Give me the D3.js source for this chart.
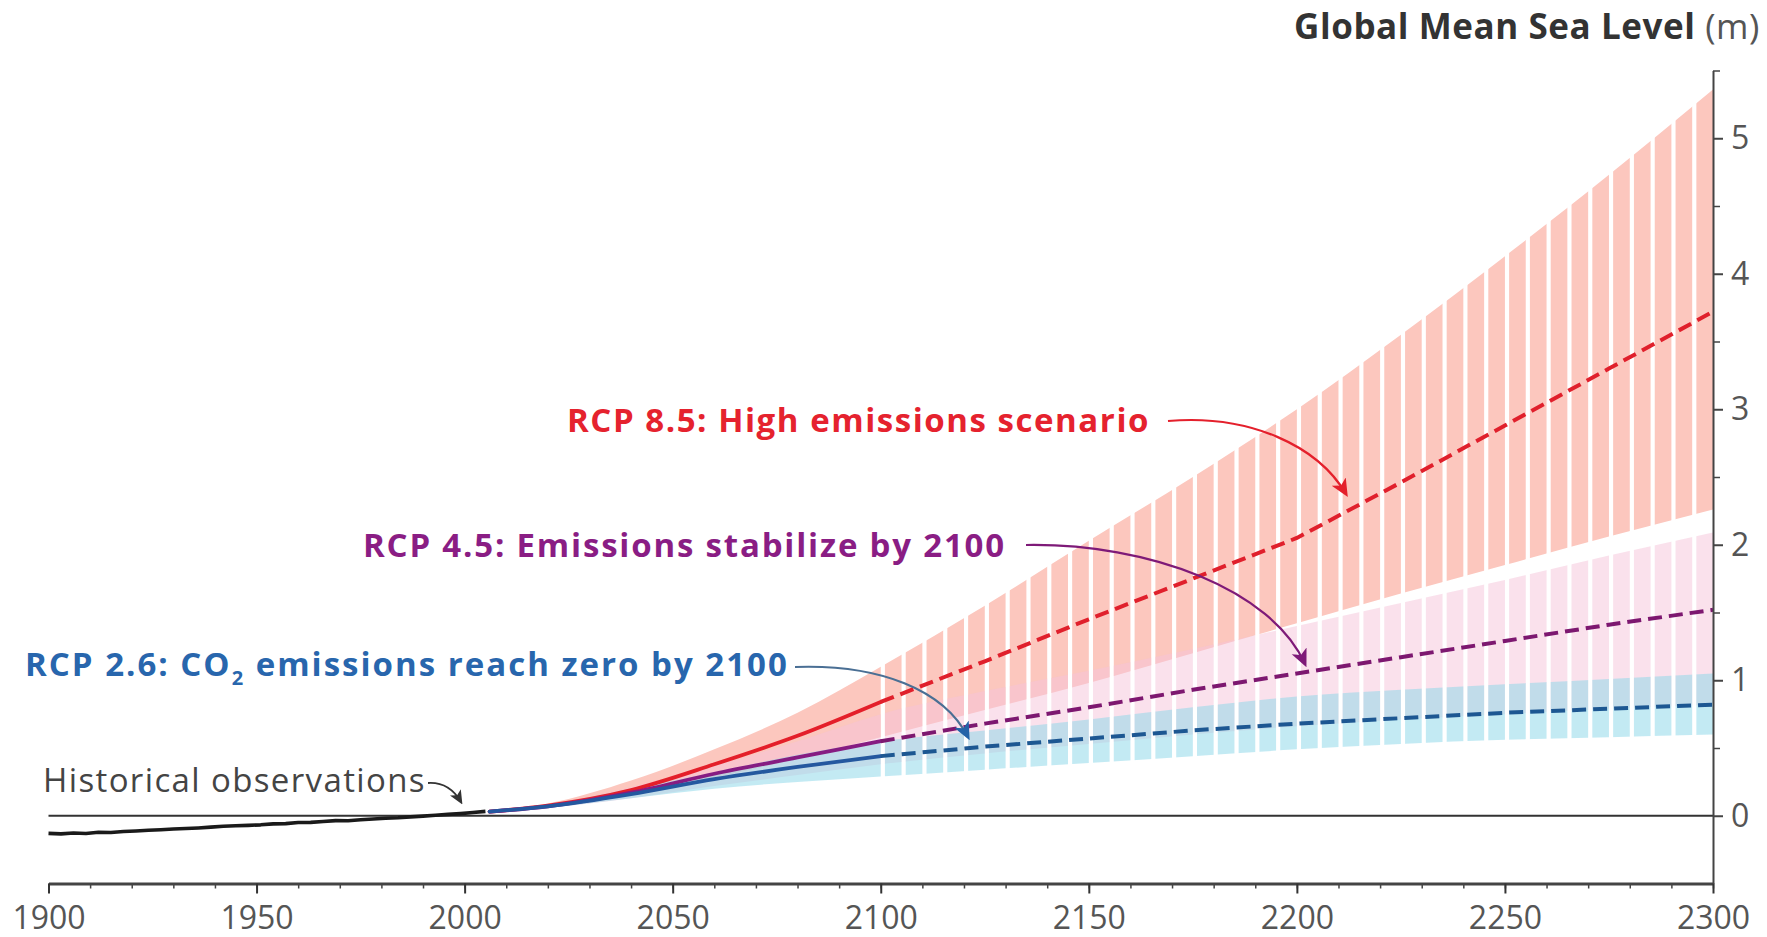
<!DOCTYPE html>
<html>
<head>
<meta charset="utf-8">
<script src="https://cdn.jsdelivr.net/npm/d3@7"></script>
<style>
  html, body { margin: 0; padding: 0; background: #fff; }
  svg { display: block; }
  text { font-family: "Open Sans", Lato, sans-serif; }
</style>
</head>
<body>
<svg id="chart" width="1767" height="937"></svg>
<script>
// ---- Observed global mean sea level (m, relative to ~2000) ----
const histYears = [1900, 1903, 1906, 1909, 1912, 1915, 1918, 1921, 1924, 1927, 1930, 1933, 1936, 1939,
  1942, 1945, 1948, 1951, 1954, 1957, 1960, 1963, 1966, 1969, 1972, 1975, 1978, 1981, 1984, 1987,
  1990, 1993, 1996, 1999, 2002, 2005];
const histLevel = [-0.130, -0.134, -0.127, -0.131, -0.122, -0.124, -0.116, -0.112, -0.107, -0.103,
  -0.098, -0.094, -0.090, -0.084, -0.078, -0.074, -0.071, -0.067, -0.060, -0.058, -0.050, -0.049,
  -0.042, -0.036, -0.037, -0.030, -0.024, -0.019, -0.015, -0.008, -0.003, 0.004, 0.010, 0.016,
  0.024, 0.032];

// ---- Projection years and scenario values (m) ----
const projYears = [2006, 2020, 2040, 2060, 2080, 2100, 2125, 2150, 2175, 2200, 2225, 2250, 2275, 2300];

const rcp85Mid  = [0.03, 0.075, 0.19, 0.38, 0.59, 0.84, 1.14, 1.45, 1.75, 2.05, 2.46, 2.88, 3.30, 3.72];
const rcp85Low  = [0.03, 0.06, 0.15, 0.28, 0.42, 0.58, 0.78, 0.98, 1.20, 1.42, 1.64, 1.85, 2.06, 2.26];
const rcp85High = [0.03, 0.09, 0.26, 0.49, 0.76, 1.10, 1.55, 2.03, 2.50, 3.00, 3.55, 4.13, 4.73, 5.36];

const rcp45Mid  = [0.03, 0.07, 0.17, 0.31, 0.43, 0.55, 0.68, 0.80, 0.93, 1.05, 1.17, 1.29, 1.41, 1.52];
const rcp45Low  = [0.03, 0.06, 0.13, 0.22, 0.30, 0.38, 0.46, 0.53, 0.60, 0.66, 0.71, 0.75, 0.79, 0.82];
const rcp45High = [0.03, 0.08, 0.21, 0.37, 0.55, 0.75, 0.92, 1.07, 1.23, 1.40, 1.57, 1.74, 1.92, 2.09];

const rcp26Mid  = [0.03, 0.07, 0.16, 0.27, 0.36, 0.44, 0.51, 0.57, 0.63, 0.68, 0.72, 0.76, 0.79, 0.82];
const rcp26Low  = [0.03, 0.06, 0.13, 0.20, 0.25, 0.29, 0.34, 0.39, 0.44, 0.49, 0.53, 0.56, 0.58, 0.60];
const rcp26High = [0.03, 0.08, 0.20, 0.32, 0.45, 0.55, 0.63, 0.71, 0.80, 0.88, 0.93, 0.97, 1.01, 1.05];

// ---- Axis ticks ----
const xMajorTicks = [1900, 1950, 2000, 2050, 2100, 2150, 2200, 2250, 2300];
const xMinorTicks = d3.range(1900, 2301, 10);
const yMajorTicks = [0, 1, 2, 3, 4, 5];
const yMinorTicks = [0.5, 1.5, 2.5, 3.5, 4.5, 5.5];

// ---- Scales ----
const svg = d3.select("#chart");
const x = d3.scaleLinear().domain([1900, 2300]).range([48.5, 1713]);
const y = d3.scaleLinear().domain([-0.5, 5.5]).range([883.5, 70.5]);

const rows = (mid, lo, hi) => projYears.map((yr, i) => ({ yr, mid: mid[i], lo: lo[i], hi: hi[i] }));
const scenarios = [
  { key: "rcp85", rows: rows(rcp85Mid, rcp85Low, rcp85High), band: "#fcc7be", bandOpacity: 1.0,
    solid: "#e41f2a", dashed: "#e0202c" },
  { key: "rcp45", rows: rows(rcp45Mid, rcp45Low, rcp45High), band: "#f6c3da", bandOpacity: 0.5,
    solid: "#861c82", dashed: "#7d1870" },
  { key: "rcp26", rows: rows(rcp26Mid, rcp26Low, rcp26High), band: "#92d8ea", bandOpacity: 0.55,
    solid: "#24589f", dashed: "#1d5792" }
];

const defs = svg.append("defs");

// Clip: continuous band up to 2100, then 5-year bars separated by thin gaps
const clip = defs.append("clipPath").attr("id", "bandClip");
clip.append("rect")
  .attr("x", x(2006)).attr("width", x(2100) - x(2006))
  .attr("y", 0).attr("height", 937);
d3.range(2100, 2300, 5).forEach(t => {
  clip.append("rect")
    .attr("x", x(t + 1)).attr("width", x(t + 5) - x(t + 1))
    .attr("y", 0).attr("height", 937);
});

// Arrowhead markers
function marker(id, color, size) {
  defs.append("marker")
    .attr("id", id)
    .attr("viewBox", "0 0 10 10")
    .attr("refX", 8).attr("refY", 5)
    .attr("markerWidth", size).attr("markerHeight", size)
    .attr("markerUnits", "userSpaceOnUse")
    .attr("orient", "auto")
    .append("path")
    .attr("d", "M0,0.5 L10,5 L0,9.5 L2.5,5 Z")
    .attr("fill", color);
}
marker("arrRed", "#e4202c", 18);
marker("arrPurple", "#7e1a78", 18);
marker("arrBlue", "#2463a8", 18);
marker("arrGrey", "#333", 14);

// ---- Uncertainty bands ----
const area = d3.area()
  .x(d => x(d.yr))
  .y0(d => y(d.lo))
  .y1(d => y(d.hi))
  .curve(d3.curveMonotoneX);

const bands = svg.append("g").attr("clip-path", "url(#bandClip)");
scenarios.forEach(s => {
  bands.append("path")
    .datum(s.rows)
    .attr("d", area)
    .attr("fill", s.band)
    .attr("fill-opacity", s.bandOpacity);
});

// ---- Zero reference line ----
svg.append("line")
  .attr("x1", x(1900)).attr("x2", x(2300))
  .attr("y1", y(0)).attr("y2", y(0))
  .attr("stroke", "#333").attr("stroke-width", 2);

// ---- Historical observations ----
const histLine = d3.line()
  .x((d, i) => x(histYears[i]))
  .y(d => y(d))
  .curve(d3.curveLinear);
svg.append("path")
  .datum(histLevel)
  .attr("d", histLine)
  .attr("fill", "none")
  .attr("stroke", "#1a1a1a")
  .attr("stroke-width", 3.6)
  .attr("stroke-linejoin", "round");

// ---- Scenario central estimates: solid to 2100, dashed after ----
const solidLine = d3.line()
  .x(d => x(d.yr))
  .y(d => y(d.mid))
  .curve(d3.curveMonotoneX);
const dashedLine = d3.line()
  .x(d => x(d.yr))
  .y(d => y(d.mid))
  .curve(d3.curveLinear);

scenarios.forEach(s => {
  svg.append("path")
    .datum(s.rows.filter(d => d.yr <= 2100))
    .attr("d", solidLine)
    .attr("fill", "none")
    .attr("stroke", s.solid)
    .attr("stroke-width", 3.8)
    .attr("stroke-linecap", "round");
});
scenarios.forEach(s => {
  svg.append("path")
    .datum(s.rows.filter(d => d.yr >= 2100))
    .attr("d", dashedLine)
    .attr("fill", "none")
    .attr("stroke", s.dashed)
    .attr("stroke-width", 4)
    .attr("stroke-dasharray", "14,7");
});

// ---- Axes ----
const tickFont = g => g.selectAll("text")
  .attr("font-family", "Lato, sans-serif")
  .attr("font-weight", 400)
  .attr("font-size", 32)
  .attr("fill", "#555");

const xAxisY = y(-0.5);
svg.append("g")
  .attr("transform", `translate(0,${xAxisY})`)
  .call(d3.axisBottom(x).tickValues(xMinorTicks).tickSize(5).tickFormat(""))
  .call(g => g.select(".domain").remove())
  .call(g => g.selectAll("line").attr("stroke", "#444").attr("stroke-width", 1.5));
svg.append("g")
  .attr("transform", `translate(0,${xAxisY})`)
  .call(d3.axisBottom(x).tickValues(xMajorTicks).tickSize(10).tickSizeOuter(0)
    .tickPadding(13).tickFormat(d3.format("d")))
  .call(g => g.select(".domain").attr("stroke", "#444").attr("stroke-width", 3))
  .call(g => g.selectAll("line").attr("stroke", "#333").attr("stroke-width", 2))
  .call(tickFont);

svg.append("g")
  .attr("transform", `translate(${x(2300)},0)`)
  .call(d3.axisRight(y).tickValues(yMinorTicks).tickSize(7).tickFormat(""))
  .call(g => g.select(".domain").remove())
  .call(g => g.selectAll("line").attr("stroke", "#444").attr("stroke-width", 1.5));
svg.append("g")
  .attr("transform", `translate(${x(2300)},0)`)
  .call(d3.axisRight(y).tickValues(yMajorTicks).tickSize(10).tickSizeOuter(0)
    .tickPadding(8).tickFormat(d3.format("d")))
  .call(g => g.select(".domain").attr("stroke", "#444").attr("stroke-width", 2))
  .call(g => g.selectAll("line").attr("stroke", "#444").attr("stroke-width", 2))
  .call(tickFont);

// Spread letters so a text run spans the given width
function fitWidth(sel, width) {
  const node = sel.node();
  const n = node.textContent.length;
  const w = node.getComputedTextLength();
  sel.attr("letter-spacing", ((width - w) / n).toFixed(2));
}

// ---- Title ----
const title = svg.append("text")
  .attr("x", 1294).attr("y", 39)
  .attr("font-size", 35)
  .attr("fill", "#333");
title.append("tspan").attr("font-weight", 700).text("Global Mean Sea Level");
title.append("tspan").attr("font-weight", 400).attr("fill", "#555").text(" (m)");
fitWidth(title, 466);

// ---- Scenario labels ----
const red = svg.append("text")
  .attr("x", 567).attr("y", 432)
  .attr("font-size", 33).attr("font-weight", 700)
  .attr("fill", "#e5222e")
  .text("RCP 8.5: High emissions scenario");
fitWidth(red, 583);

const purple = svg.append("text")
  .attr("x", 363).attr("y", 557)
  .attr("font-size", 33).attr("font-weight", 700)
  .attr("fill", "#8a1d84")
  .text("RCP 4.5: Emissions stabilize by 2100");
fitWidth(purple, 643);

const blueLabel = svg.append("text")
  .attr("x", 25).attr("y", 676)
  .attr("font-size", 33).attr("font-weight", 700)
  .attr("fill", "#2866ad");
blueLabel.append("tspan").text("RCP 2.6: CO");
blueLabel.append("tspan").attr("font-size", 20).attr("dy", 9).text("2");
blueLabel.append("tspan").attr("dy", -9).text(" emissions reach zero by 2100");
fitWidth(blueLabel, 764);

const hist = svg.append("text")
  .attr("x", 43).attr("y", 792)
  .attr("font-size", 33).attr("font-weight", 400)
  .attr("fill", "#444")
  .text("Historical observations");
fitWidth(hist, 383);

// ---- Leader arrows ----
const arrows = [
  { d: "M1168,421 C1250,414 1318,446 1346,494", color: "#e4202c", m: "arrRed", w: 2.2 },
  { d: "M1026,545 C1150,543 1272,590 1305,664", color: "#7e1a78", m: "arrPurple", w: 2.2 },
  { d: "M795,667 C880,664 944,690 968,737", color: "#4a6f94", m: "arrBlue", w: 2.2 },
  { d: "M428,783 C444,782 454,790 461,802", color: "#333", m: "arrGrey", w: 1.8 }
];
arrows.forEach(a => {
  svg.append("path")
    .attr("d", a.d)
    .attr("fill", "none")
    .attr("stroke", a.color)
    .attr("stroke-width", a.w)
    .attr("marker-end", `url(#${a.m})`);
});
</script>
</body>
</html>
